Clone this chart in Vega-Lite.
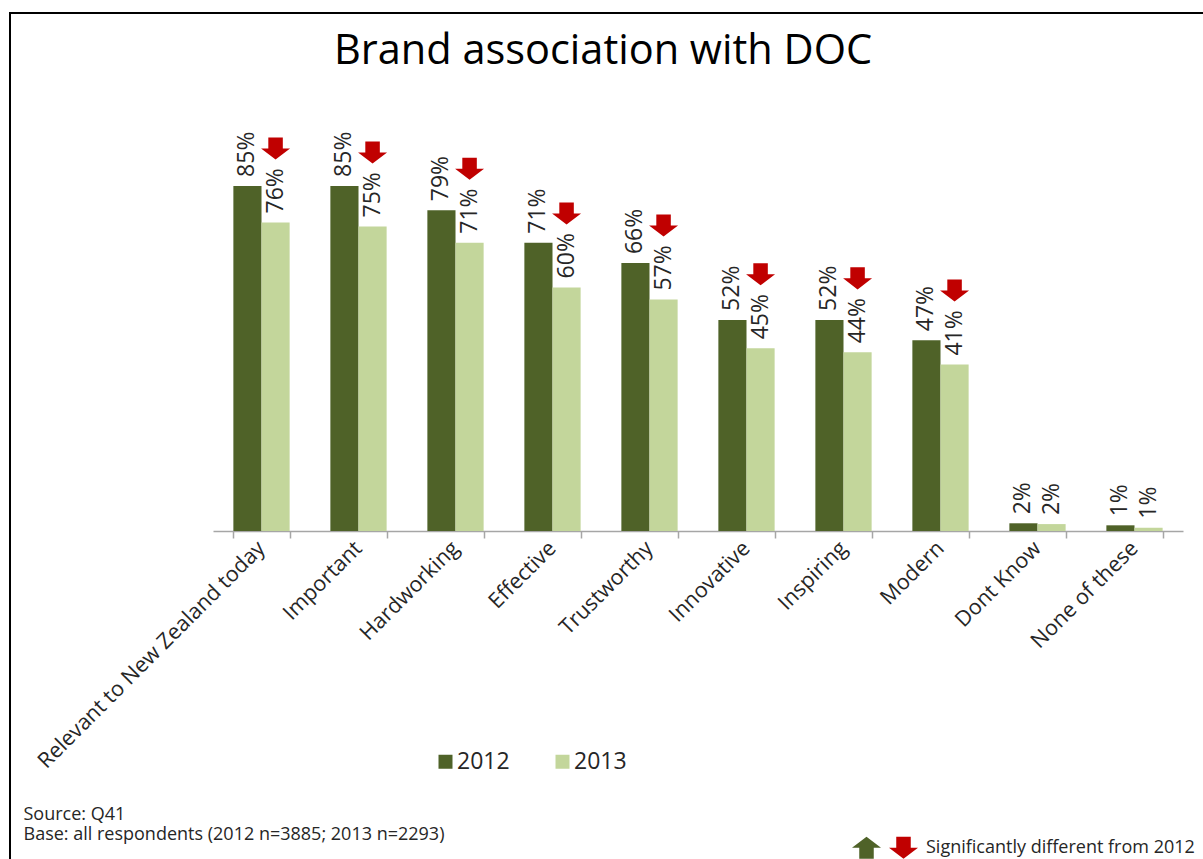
{
  "$schema": "https://vega.github.io/schema/vega-lite/v6.json",
  "width": 1200,
  "height": 860,
  "autosize": {"type": "none"},
  "padding": {"left": 10, "top": 13, "right": 0, "bottom": 0},
  "background": "white",
  "config": {"font": "Open Sans", "view": {"stroke": "black", "strokeWidth": 2}},
  "title": {"text": "Brand association with DOC", "fontSize": 41.5, "fontWeight": "normal", "color": "#000000", "anchor": "middle", "frame": "group", "baseline": "alphabetic", "offset": -92, "dx": -7},
  "data": {"values": [
    {"attribute": "Relevant to New Zealand today", "year": "2012", "value": 0.85, "sig": "none"},
    {"attribute": "Relevant to New Zealand today", "year": "2013", "value": 0.76, "sig": "down"},
    {"attribute": "Important", "year": "2012", "value": 0.85, "sig": "none"},
    {"attribute": "Important", "year": "2013", "value": 0.75, "sig": "down"},
    {"attribute": "Hardworking", "year": "2012", "value": 0.79, "sig": "none"},
    {"attribute": "Hardworking", "year": "2013", "value": 0.71, "sig": "down"},
    {"attribute": "Effective", "year": "2012", "value": 0.71, "sig": "none"},
    {"attribute": "Effective", "year": "2013", "value": 0.60, "sig": "down"},
    {"attribute": "Trustworthy", "year": "2012", "value": 0.66, "sig": "none"},
    {"attribute": "Trustworthy", "year": "2013", "value": 0.57, "sig": "down"},
    {"attribute": "Innovative", "year": "2012", "value": 0.52, "sig": "none"},
    {"attribute": "Innovative", "year": "2013", "value": 0.45, "sig": "down"},
    {"attribute": "Inspiring", "year": "2012", "value": 0.52, "sig": "none"},
    {"attribute": "Inspiring", "year": "2013", "value": 0.44, "sig": "down"},
    {"attribute": "Modern", "year": "2012", "value": 0.47, "sig": "none"},
    {"attribute": "Modern", "year": "2013", "value": 0.41, "sig": "down"},
    {"attribute": "Dont Know", "year": "2012", "value": 0.019, "sig": "none"},
    {"attribute": "Dont Know", "year": "2013", "value": 0.017, "sig": "none"},
    {"attribute": "None of these", "year": "2012", "value": 0.014, "sig": "none"},
    {"attribute": "None of these", "year": "2013", "value": 0.008, "sig": "none"}
  ]},
  "encoding": {
    "x": {"field": "attribute", "type": "nominal", "sort": null,
      "scale": {"range": [203, 1173], "paddingInner": 0.42, "paddingOuter": 0.21},
      "axis": {
        "title": ["Source: Q41", "Base: all respondents (2012 n=3885; 2013 n=2293)"],
        "titleX": 13, "titleY": 288, "titleAlign": "left", "titleAnchor": "start", "titleBaseline": "alphabetic",
        "titleFontSize": 18, "titleFontWeight": "normal", "titleLineHeight": 20, "titleColor": "#262626",
        "offset": -342, "labelAngle": -45, "labelAlign": "right", "labelBaseline": "middle",
        "labelFontSize": 21.5, "labelPadding": 7, "labelColor": "#262626", "labelLimit": 500,
        "tickBand": "extent", "tickSize": 7, "tickColor": "#A6A6A6", "tickWidth": 1.5,
        "domainColor": "#A6A6A6", "domainWidth": 1.5, "grid": false
      }},
    "xOffset": {"field": "year", "type": "nominal"},
    "y": {"field": "value", "type": "quantitative", "scale": {"domain": [0, 1], "range": [518, 112]}, "axis": null}
  },
  "layer": [
    {
      "mark": {"type": "bar"},
      "encoding": {
        "color": {"field": "year", "type": "nominal",
          "scale": {"domain": ["2012", "2013"], "range": ["#4F6228", "#C3D69B"]},
          "legend": {"orient": "none", "legendX": 424, "legendY": 737, "direction": "horizontal", "title": null,
            "symbolType": "square", "symbolSize": 196, "symbolStrokeWidth": 0, "labelFontSize": 23, "labelOffset": 0,
            "columnPadding": 41, "padding": 0, "labelColor": "#262626"}}
      }
    },
    {
      "mark": {"type": "text", "angle": 270, "align": "left", "baseline": "middle", "dx": 9, "fontSize": 23, "color": "#262626"},
      "encoding": {"text": {"field": "value", "type": "quantitative", "format": ".0%"}}
    },
    {
      "transform": [{"filter": "datum.sig == 'down'"}],
      "mark": {"type": "point", "filled": true, "opacity": 1, "strokeWidth": 0, "yOffset": -74},
      "encoding": {
        "size": {"value": 841},
        "shape": {"field": "sig", "type": "nominal",
          "scale": {"domain": ["up", "down"], "range": ["M-0.5,0.76L0.5,0.76L0.5,0L1,0L0,-0.76L-1,0L-0.5,0Z", "M-0.5,-0.76L0.5,-0.76L0.5,0L1,0L0,0.76L-1,0L-0.5,0Z"]},
          "legend": {"orient": "none", "legendX": 842, "legendY": 820, "direction": "horizontal", "title": null,
            "symbolSize": 841, "symbolStrokeWidth": 0, "symbolOpacity": 1, "labelFontSize": 18, "labelOffset": 8, "columnPadding": 0, "padding": 0,
            "labelLimit": 500, "labelColor": "#262626", "labelExpr": "datum.value == 'up' ? '' : 'Significantly different from 2012'"}},
        "fill": {"field": "sig", "type": "nominal",
          "scale": {"domain": ["up", "down"], "range": ["#4F6228", "#C00000"]},
          "legend": {"orient": "none", "legendX": 842, "legendY": 820, "direction": "horizontal", "title": null,
            "symbolSize": 841, "symbolStrokeWidth": 0, "symbolOpacity": 1, "labelFontSize": 18, "labelOffset": 8, "columnPadding": 0, "padding": 0,
            "labelLimit": 500, "labelColor": "#262626", "labelExpr": "datum.value == 'up' ? '' : 'Significantly different from 2012'"}}
      }
    }
  ],
  "resolve": {"scale": {"color": "independent"}}
}
